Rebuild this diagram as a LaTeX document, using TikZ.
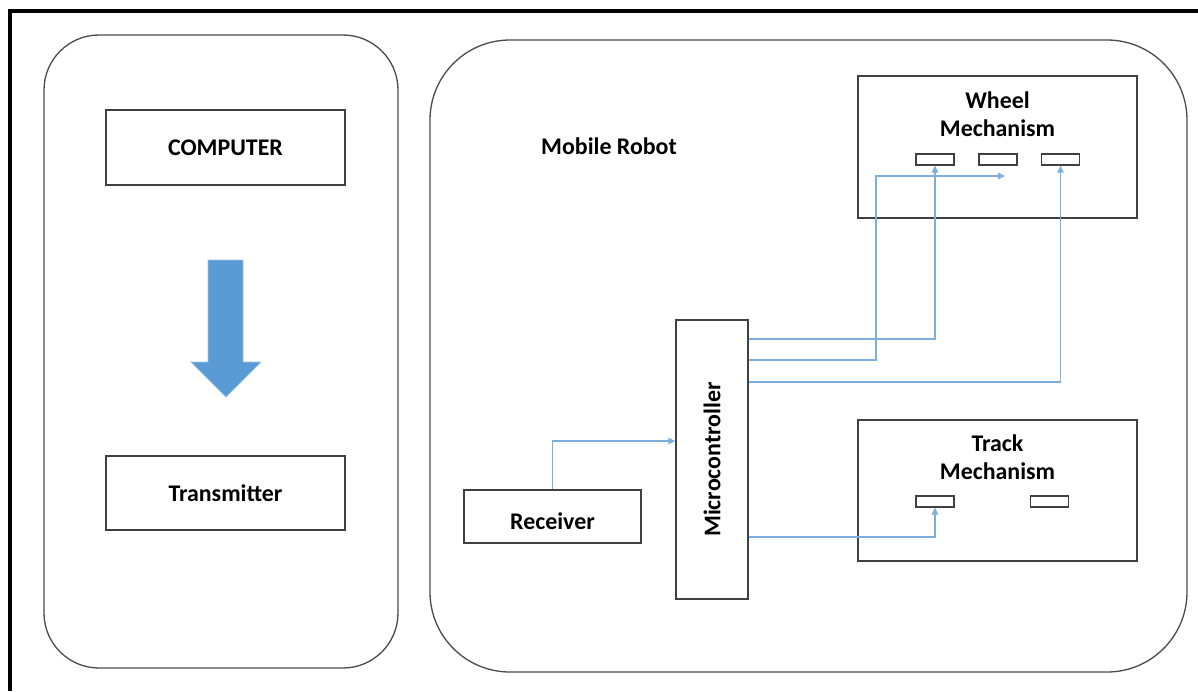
\documentclass[tikz,border=0pt]{standalone}
\usepackage{fontspec}
\setmainfont{Carlito}
\usetikzlibrary{arrows.meta,calc}
\definecolor{sigblue}{RGB}{91,155,213}
\tikzset{
  blk/.style={rectangle,draw=black!75,fill=white,line width=.75pt,inner sep=0pt},
  slot/.style={rectangle,draw=black!75,fill=white,line width=.75pt,minimum width=.76cm,minimum height=.22cm,inner sep=0pt},
  rbox/.style={draw=black!70,line width=.75pt},
  lb/.style={font=\bfseries\fontsize{13.6}{16}\selectfont,align=center},
  sig/.style={-{Triangle[length=1.4mm,width=1.3mm]},draw=sigblue!80,line width=.6pt},
  frm/.style={draw=black,line width=1.8pt},
}
\begin{document}
\begin{tikzpicture}[x=0.02cm,y=-0.02cm]
\useasboundingbox (0,0) rectangle (1198,691);
% page frame, cut by the right and bottom edges
\draw[frm] (10,691) -- (10,11) -- (1198,11);
% the two panels
\draw[rbox,rounded corners=1.1cm] (44,35) rectangle (398,668);
\draw[rbox,rounded corners=1.6cm] (430,40) rectangle (1187,672);
% ground side
\node[blk,lb,minimum width=4.78cm,minimum height=1.5cm] (comp) at (225.5,147.5) {COMPUTER};
\node[blk,lb,minimum width=4.78cm,minimum height=1.48cm] (trans) at (225.5,493) {Transmitter};
\fill[sigblue,draw=sigblue!60,line width=.4pt]
  (208,260) -- (243,260) -- (243,362) -- (261,362) -- (226,397) -- (191,362) -- (208,362) -- cycle;
% robot side
\node[lb] (robot) at (609,146) {Mobile Robot};
\node[blk,minimum width=3.54cm,minimum height=1.06cm] (recv) at (552.5,516.5) {};
\node[lb] (rtxt) at (552.5,521) {Receiver};
\node[blk,minimum width=1.44cm,minimum height=5.58cm] (mcu) at (712,459.5) {};
\node[lb,rotate=90] (mcutxt) at (mcu) {Microcontroller};
% wheel mechanism and its three drives
\node[blk,minimum width=5.58cm,minimum height=2.84cm] (wheel) at (997.5,147) {};
\node[lb] (wtxt) at (997.5,114) {Wheel\\Mechanism};
\node[slot] (w1) at (935,159.5) {};
\node[slot] (w2) at (998,159.5) {};
\node[slot] (w3) at (1060.5,159.5) {};
% track mechanism and its two drives
\node[blk,minimum width=5.58cm,minimum height=2.82cm] (track) at (997.5,490.5) {};
\node[lb] (ttxt) at (997.5,457) {Track\\Mechanism};
\node[slot] (t1) at (935,501.5) {};
\node[slot] (t2) at (1049.5,501.5) {};
% signal lines
\coordinate (wbend) at (876,176);
\coordinate (wfree) at (1005,176);
\draw[sig] (recv.north) |- (mcu.west |- 0,441);
\draw[sig] (mcu.east |- 0,339) -| (w1.south);
\draw[sig] (mcu.east |- 0,360) -| (wbend) -- (wfree);
\draw[sig] (mcu.east |- 0,382) -| (w3.south);
\draw[sig] (mcu.east |- 0,537) -| (t1.south);
\end{tikzpicture}
\end{document}
